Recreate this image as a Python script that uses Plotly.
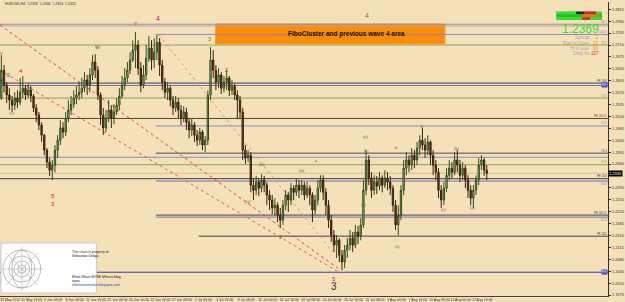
import plotly.graph_objects as go

# ---------------- data (prices quoted in 1/10000) ----------------
FIRST_OPEN = 12554
close_pips = [12636,12592,12563,12548,12533,12554,12542,12571,12583,12563,
              12577,12560,12525,12504,12475,12445,12401,12366,12342,12357,
              12401,12430,12466,12454,12495,12519,12536,12554,12563,12571,
              12583,12607,12592,12622,12660,12636,12563,12504,12466,12495,
              12519,12495,12513,12533,12560,12592,12613,12636,12666,12695,
              12710,12642,12592,12622,12671,12701,12666,12689,12718,12651,
              12601,12571,12583,12548,12525,12542,12519,12495,12513,12483,
              12460,12475,12445,12430,12454,12416,12430,12563,12666,12636,
              12601,12622,12583,12601,12613,12577,12589,12563,12548,12513,
              12401,12378,12386,12298,12283,12307,12289,12313,12298,12269,
              12254,12231,12239,12210,12195,12239,12269,12254,12289,12277,
              12298,12283,12298,12269,12289,12269,12225,12254,12289,12313,
              12277,12239,12195,12151,12122,12136,12092,12072,12107,12122,
              12142,12122,12160,12148,12181,12283,12372,12319,12283,12307,
              12295,12319,12298,12319,12307,12289,12239,12181,12210,12283,
              12348,12372,12357,12386,12372,12407,12430,12416,12401,12425,
              12386,12357,12336,12283,12254,12289,12327,12348,12336,12372,
              12357,12327,12348,12313,12283,12260,12283,12313,12357,12372,
              12342,12333]
high_pips = [12680,12651,12601,12583,12560,12571,12577,12613,12619,12592,
             12595,12589,12566,12536,12513,12483,12448,12407,12378,12372,
             12416,12445,12489,12483,12513,12548,12560,12577,12589,12601,
             12613,12630,12622,12642,12680,12683,12648,12571,12525,12519,
             12548,12533,12536,12554,12583,12619,12642,12660,12689,12724,
             12748,12724,12660,12651,12710,12736,12724,12730,12739,12730,
             12666,12613,12601,12589,12560,12560,12554,12533,12530,12525,
             12495,12495,12483,12460,12466,12460,12442,12577,12704,12695,
             12651,12642,12630,12619,12636,12619,12607,12595,12577,12560,
             12525,12416,12401,12395,12319,12325,12319,12330,12325,12307,
             12283,12269,12260,12248,12231,12254,12283,12277,12304,12298,
             12319,12313,12313,12307,12307,12298,12277,12269,12313,12327,
             12327,12289,12254,12210,12166,12151,12142,12107,12122,12142,
             12166,12160,12181,12178,12201,12313,12401,12386,12336,12327,
             12325,12336,12327,12342,12336,12325,12298,12254,12239,12298,
             12372,12395,12386,12407,12401,12425,12445,12466,12436,12445,
             12430,12401,12372,12348,12298,12307,12348,12372,12366,12395,
             12401,12372,12366,12357,12327,12298,12298,12327,12378,12386,
             12378,12357]
low_pips = [12548,12571,12539,12519,12513,12519,12525,12533,12554,12548,
            12554,12542,12513,12483,12460,12425,12386,12348,12325,12313,
            12336,12378,12416,12436,12442,12483,12504,12525,12536,12548,
            12554,12571,12563,12571,12607,12613,12548,12475,12445,12454,
            12483,12466,12477,12504,12519,12554,12577,12601,12624,12660,
            12642,12622,12571,12583,12607,12660,12636,12642,12666,12619,
            12577,12554,12548,12530,12504,12513,12495,12475,12483,12460,
            12436,12442,12425,12413,12416,12401,12395,12416,12548,12613,
            12577,12583,12566,12571,12577,12560,12563,12548,12495,12495,
            12372,12360,12366,12277,12254,12269,12266,12277,12277,12239,
            12225,12213,12210,12189,12172,12181,12225,12219,12239,12254,
            12266,12260,12269,12254,12260,12239,12189,12210,12239,12277,
            12254,12210,12172,12131,12101,12084,12072,12048,12054,12084,
            12107,12101,12113,12125,12136,12172,12269,12298,12260,12269,
            12272,12283,12277,12289,12283,12269,12219,12166,12151,12195,
            12269,12327,12336,12342,12348,12357,12386,12401,12378,12386,
            12357,12327,12313,12260,12231,12239,12277,12313,12319,12327,
            12336,12307,12313,12289,12260,12239,12231,12269,12298,12342,
            12325,12313]

date_labels = ["29 May 2012", "31 May 16:00", "5 Jun 08:00", "8 Jun 00:00", "12 Jun 16:00",
               "15 Jun 08:00", "20 Jun 00:00", "22 Jun 16:00", "27 Jun 08:00", "2 Jul 00:00",
               "4 Jul 16:00", "9 Jul 08:00", "12 Jul 00:00", "16 Jul 16:00", "19 Jul 08:00",
               "24 Jul 00:00", "26 Jul 16:00", "31 Jul 08:00", "3 Aug 00:00", "7 Aug 16:00",
               "10 Aug 08:00", "15 Aug 00:00", "17 Aug 16:00"]
BARS_PER_LABEL = 8
price_ticks = [1.2815, 1.2780, 1.2745, 1.2710, 1.2675, 1.2640, 1.2605, 1.2570, 1.2535,
               1.2500, 1.2465, 1.2430, 1.2395, 1.2360, 1.2325, 1.2290, 1.2255, 1.2220,
               1.2185, 1.2150, 1.2115, 1.2080, 1.2045, 1.2010, 1.1975]
CURRENT_PRICE = 1.2333

# horizontal levels
level_prices = [1.2771, 1.2766, 1.2741, 1.2710, 1.2598, 1.2591, 1.2554, 1.2494, 1.2472,
                1.2392, 1.2380, 1.2358, 1.2317, 1.2310, 1.2210, 1.2204, 1.2148, 1.2042]
level_colors = ["#9a8e9a", "#b4a6b4", "#8a86c8", "#8aa45a", "#3c3c5a", "#7070b8", "#8aa45a",
                "#5a4632", "#8a86c8", "#4a4460", "#8a86c8", "#8aa45a", "#3c3c4a", "#7070b8",
                "#4a4040", "#7070b8", "#4a4040", "#3a3aa8"]
level_start = [-0.5, -0.5, 57.6, -0.5, -0.5, -0.5, -0.5, -0.5, 57.6,
               57.6, -0.5, -0.5, -0.5, 57.6, 57.6, 57.6, 73.6, -0.5]
level_labels = ["38.2", "", "100.0", "38.2", "FE 100", "", "23.6", "FE 161.8", "61.8",
                "76.4", "", "23.6", "FE 200", "50.0", "FE 161.8", "61.8", "FE 161", ""]
level_label_above = [True, True, True, True, True, True, True, True, True,
                     True, True, True, True, False, True, False, True, True]

# trendlines
trend_bar0 = [-0.5, -0.5, 58.8]
trend_p0 = [1.2769, 1.2636, 1.2739]
trend_bar1 = [126.5, 126.5, 123.6]
trend_p1 = [1.2048, 1.2039, 1.2101]
trend_colors = ["#e04848", "#e06060", "#f09070"]

# box "FiboCluster and previous wave 4 area"
box_bars = [79.9, 165.4]
box_prices = [1.2713, 1.2772]
box_text_bar = 128.8

# wave labels: bar, price, text, colour, size
wave_bar = [0.2, 0.6, 2.5, 7.3, 10.6, 3.9, 19.1, 19.1, 35.8, 50.2, 58.4, 77.6, 83.9, 136.5,
            103.9, 117.6, 135.8, 136.2, 135.4, 147.3, 147.6, 156.9, 164.7, 169.9, 175.8,
            123.9, 123.9, 88.4, 97.3, 92.0, 112.0]
wave_price = [1.2686, 1.2607, 1.2622, 1.2634, 1.2581, 1.2510, 1.2266, 1.2243, 1.2704, 1.2772,
              1.2789, 1.2728, 1.2637, 1.2798, 1.2146, 1.2369, 1.2440, 1.2401, 1.2240, 1.2410,
              1.2119, 1.2469, 1.2225, 1.2407, 1.2231, 1.2022, 1.1999, 1.2498, 1.2360, 1.2250,
              1.2340]
wave_text = ["v", "W", "2", "4", "3", "XX", "5", "3", "W", "Y", "4", "3", "2", "4",
             "3", "a", "(a)", "(c)", "(b)", "b", "(ii)", "b", "(c)", "(b)", "(a)",
             "5", "3", "(i)", "(iv)", "(iii)", "(iii)"]
wave_color = ["#c03090", "#404040", "#404040", "#d02020", "#303030", "#707070", "#d02020",
              "#d02020", "#505050", "#505050", "#b02080", "#4a7a20", "#404040", "#707070",
              "#3a7a20", "#5a6a3a", "#5a6a3a", "#5a6a3a", "#5a6a3a", "#5a6a3a", "#5a6a3a",
              "#5a6a3a", "#5a6a3a", "#5a6a3a", "#5a6a3a", "#b02080", "#303030", "#5a6a3a",
              "#5a6a3a", "#5a6a3a", "#5a6a3a"]
wave_size = [5, 5, 5, 6, 5, 4, 6, 6, 5, 5, 7, 5, 5, 7, 5, 4, 4, 4, 4, 4, 4, 4, 4, 4, 4,
             6, 10, 4, 4, 4, 4]

# ---------------- build ----------------
n = len(close_pips)
bars = list(range(n))
closes = [v / 10000 for v in close_pips]
opens = [FIRST_OPEN / 10000] + closes[:-1]
highs = [max(h / 10000, o, c) for h, o, c in zip(high_pips, opens, closes)]
lows = [min(l / 10000, o, c) for l, o, c in zip(low_pips, opens, closes)]

X_MIN, X_MAX = -0.5, 226.2
Y_MIN, Y_MAX = 1.19721, 1.28364
PLOT_W, PLOT_TOP, PLOT_BOT = 612.0, 2.0, 296.0
BG = "#f5e1b8"


def px(xp, yp):
    """pixel position in the 625x302 frame -> paper coords"""
    return xp / PLOT_W, (PLOT_BOT - yp) / (PLOT_BOT - PLOT_TOP)


fig = go.Figure()
fig.add_trace(go.Candlestick(
    x=bars, open=opens, high=highs, low=lows, close=closes,
    increasing=dict(line=dict(color="#2f4f1f", width=1), fillcolor="#a7bd78"),
    decreasing=dict(line=dict(color="#3a2210", width=1), fillcolor="#6e3b1c"),
    whiskerwidth=0, showlegend=False, hoverinfo="skip"))

shapes = []
annotations = []

shapes.append(dict(type="rect", xref="x", yref="y", x0=box_bars[0], x1=box_bars[1],
                   y0=box_prices[0], y1=box_prices[1], fillcolor="#ff8c00",
                   line=dict(color="#f0a040", width=1), layer="below"))
for p, col, s, lab, above in zip(level_prices, level_colors, level_start, level_labels,
                                 level_label_above):
    shapes.append(dict(type="line", xref="x", yref="y", x0=s, x1=X_MAX, y0=p, y1=p,
                       line=dict(color=col, width=1), layer="below"))
    if lab:
        annotations.append(dict(x=X_MAX, y=p, xref="x", yref="y", text=lab,
                                showarrow=False, xanchor="right",
                                yanchor="bottom" if above else "top",
                                font=dict(size=3, color=col),
                                yshift=-0.5 if above else 0.5, borderpad=0))
shapes.append(dict(type="line", xref="x", yref="y", x0=X_MIN, x1=X_MAX,
                   y0=CURRENT_PRICE, y1=CURRENT_PRICE,
                   line=dict(color="#d2bf98", width=1), layer="below"))
for b0, p0, b1, p1, col in zip(trend_bar0, trend_p0, trend_bar1, trend_p1, trend_colors):
    shapes.append(dict(type="line", xref="x", yref="y", x0=b0, y0=p0, x1=b1, y1=p1,
                       line=dict(color=col, width=1, dash="dot"), layer="below"))

for b, p, t, c, s in zip(wave_bar, wave_price, wave_text, wave_color, wave_size):
    annotations.append(dict(x=b, y=p, xref="x", yref="y", text=t, showarrow=False,
                            font=dict(size=s, color=c)))

annotations.append(dict(x=box_text_bar, y=sum(box_prices) / 2,
                        xref="x", yref="y", text="<b>FiboCluster and previous wave 4 area</b>",
                        showarrow=False, font=dict(size=6.5, color="#101010")))

x0p, y0p = px(3, 4)
annotations.append(dict(x=x0p, y=y0p, xref="paper", yref="paper",
                        text="EURUSD,H4  1.2326  1.2344  1.2324  1.2332", showarrow=False,
                        xanchor="left", yanchor="middle", font=dict(size=3.5, color="#303030")))


def prect(x0, y0, x1, y1, col):
    a, b = px(x0, y0)
    c, d = px(x1, y1)
    shapes.append(dict(type="rect", xref="paper", yref="paper", x0=a, y0=d, x1=c, y1=b,
                       fillcolor=col, line=dict(width=0), layer="above"))


prect(560, 11.5, 606, 20, "#33dd33")
prect(560, 14.3, 606, 17.1, "#22c022")
prect(580, 11.5, 588, 14.1, "#202020")
prect(588, 11.5, 600, 14.1, "#e02020")
prect(586, 14.5, 604, 17.0, "#f07020")
prect(586, 17.3, 594, 19.8, "#e02020")
for i, tf in enumerate(["M1", "M5", "M15", "M30", "H1", "H4", "D1"]):
    a, b = px(563 + i * 6.3, 9.0)
    annotations.append(dict(x=a, y=b, xref="paper", yref="paper", text=tf, showarrow=False,
                            font=dict(size=2.5, color="#909090"), borderpad=0))
a, b = px(603.5, 28.5)
annotations.append(dict(x=a, y=b, xref="paper", yref="paper", text="1.2369", showarrow=False,
                        xanchor="right", yanchor="middle", font=dict(size=12, color="#33dd33"),
                        borderpad=0))
info_labels = ["Spread", "Pips to Open", "Hi to Low", "Daily Av."]
info_values = ["2", "22", "93", "107"]
info_colors = ["#f09020", "#f09020", "#f09020", "#e03010"]
for i, (lab, val, col) in enumerate(zip(info_labels, info_values, info_colors)):
    a, b = px(595, 37.5 + i * 5.5)
    annotations.append(dict(x=a, y=b, xref="paper", yref="paper", text=lab, showarrow=False,
                            xanchor="right", yanchor="middle", font=dict(size=4.5, color="#a8a8a8"),
                            borderpad=0))
    a, b = px(604, 37.5 + i * 5.5)
    annotations.append(dict(x=a, y=b, xref="paper", yref="paper", text=val, showarrow=False,
                            xanchor="right", yanchor="middle", font=dict(size=4.5, color=col),
                            borderpad=0))

for p in [1.2591, 1.2042]:
    annotations.append(dict(x=1.0, y=p, xref="paper", yref="y", text="FE", showarrow=False,
                            xanchor="right", yanchor="middle", bgcolor="#4848c8",
                            font=dict(size=3.5, color="#e0e0ff"), borderpad=0))
annotations.append(dict(x=1.0, y=CURRENT_PRICE, xref="paper", yref="y",
                        text=f"{CURRENT_PRICE:.4f}", showarrow=False, xanchor="left",
                        yanchor="middle", bgcolor="#000000",
                        font=dict(size=4, color="#ffffff"), borderpad=0))

prect(1, 243, 97, 293, "#ffffff")
a0, b0 = px(1, 243)
a1, b1 = px(97, 293)
shapes.append(dict(type="rect", xref="paper", yref="paper", x0=a0, y0=b1, x1=a1, y1=b0,
                   fillcolor="rgba(0,0,0,0)", line=dict(color="#c8c8c8", width=1)))
cx, cy = 22, 269
for rx, ry in [(19, 19), (13, 13), (8, 8), (4, 4), (10, 19)]:
    a, b = px(cx - rx, cy - ry)
    c, d = px(cx + rx, cy + ry)
    shapes.append(dict(type="circle", xref="paper", yref="paper", x0=a, y0=d, x1=c, y1=b,
                       line=dict(color="#a0a0a0", width=0.7)))
for (xa, ya, xb, yb) in [(2, 269, 44, 269), (22, 247, 22, 291), (6, 253, 38, 285), (6, 285, 38, 253)]:
    a, b = px(xa, ya)
    c, d = px(xb, yb)
    shapes.append(dict(type="line", xref="paper", yref="paper", x0=a, y0=b, x1=c, y1=d,
                       line=dict(color="#b0b0b0", width=0.6)))
logo_text = ["This chart is property of", "Sebastian Deliga", "Elliott Wave NYSE &Forex blog",
             "www", "elliottwavemaker.blogspot.com"]
logo_y = [255, 259, 280, 284, 288]
logo_col = ["#202020", "#202020", "#202020", "#202020", "#2040c0"]
for t, yy, col in zip(logo_text, logo_y, logo_col):
    a, b = px(71, yy)
    annotations.append(dict(x=a, y=b, xref="paper", yref="paper", text=t, showarrow=False,
                            font=dict(size=3.5, color=col), borderpad=0))

# the tick label hidden behind the current-price marker is left blank, as on the original
tick_text = ["" if abs(v - CURRENT_PRICE) < 0.0015 else f"{v:.4f}" for v in price_ticks]

fig.update_layout(
    width=625, height=302,
    margin=dict(l=0, r=13, t=2, b=6),
    paper_bgcolor=BG, plot_bgcolor=BG,
    font=dict(family="Liberation Sans, Arial, sans-serif", color="#303030"),
    shapes=shapes, annotations=annotations, showlegend=False,
    xaxis=dict(range=[X_MIN, X_MAX], rangeslider=dict(visible=False), showgrid=False,
               zeroline=False, showline=True, linecolor="#404040", linewidth=1,
               tickvals=[i * BARS_PER_LABEL + 3.3 for i in range(len(date_labels))],
               ticktext=date_labels, tickangle=0, ticks="", tickfont=dict(size=3.5, color="#303030"),
               fixedrange=True),
    yaxis=dict(range=[Y_MIN, Y_MAX], side="right", showgrid=False, zeroline=False,
               showline=True, linecolor="#303030", linewidth=1, ticks="outside", ticklen=2,
               tickcolor="#303030", tickvals=price_ticks, ticktext=tick_text,
               tickfont=dict(size=4, color="#303030"), fixedrange=True),
)

fig.write_html("out.html")
